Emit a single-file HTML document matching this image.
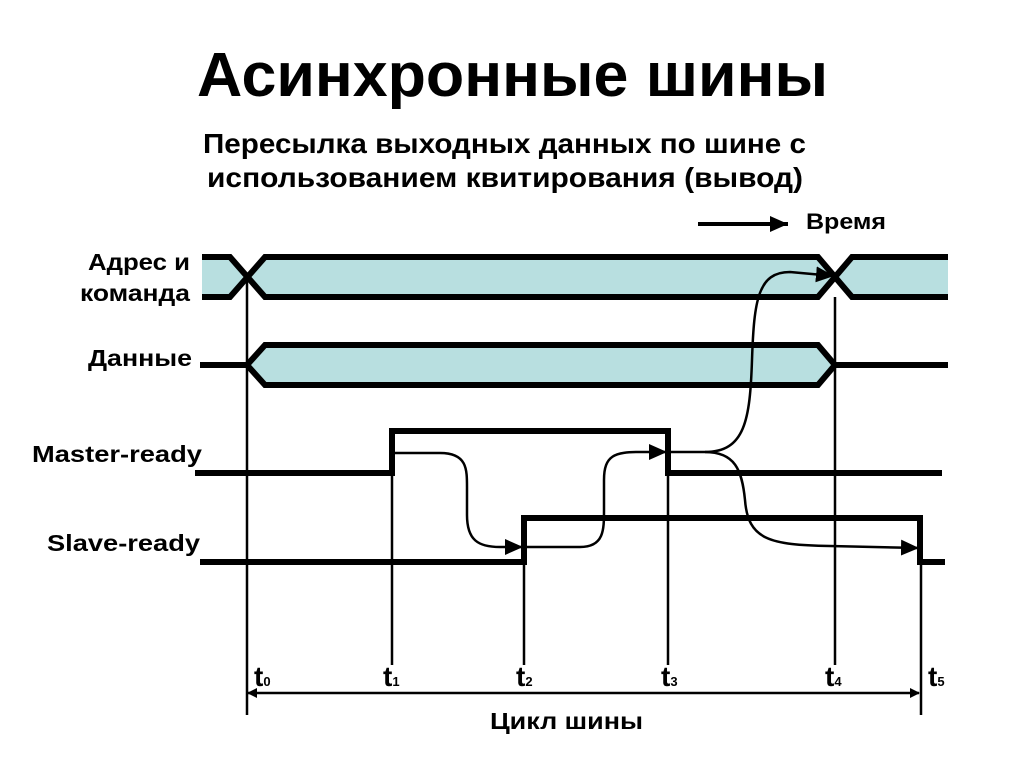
<!DOCTYPE html>
<html><head><meta charset="utf-8"><style>
body{margin:0;background:#fff;}
svg{display:block;}
text{font-family:"Liberation Sans","DejaVu Sans",sans-serif;font-weight:bold;fill:#000;}
</style></head><body>
<svg width="1024" height="768" viewBox="0 0 1024 768" xmlns="http://www.w3.org/2000/svg">
<defs>
<marker id="ah" markerWidth="10" markerHeight="10" refX="9" refY="5" orient="auto-start-reverse" markerUnits="userSpaceOnUse">
<path d="M0,0 L10,5 L0,10 Z" fill="#000"/></marker>
<marker id="ah2" markerWidth="20" markerHeight="16" refX="18" refY="8" orient="auto" markerUnits="userSpaceOnUse">
<path d="M0,0 L18,8 L0,16 Z" fill="#000"/></marker>
</defs>
<text x="197" y="96" font-size="62" textLength="631" lengthAdjust="spacingAndGlyphs">Асинхронные шины</text>
<text x="203" y="153" font-size="28" textLength="603" lengthAdjust="spacingAndGlyphs">Пересылка выходных данных по шине с</text>
<text x="207" y="187" font-size="28" textLength="596" lengthAdjust="spacingAndGlyphs">использованием квитирования (вывод)</text>
<line x1="698" y1="224" x2="788" y2="224" stroke="#000" stroke-width="4" marker-end="url(#ah2)"/>
<text x="806" y="229" font-size="22" textLength="80" lengthAdjust="spacingAndGlyphs">Время</text>

<text x="88" y="270" font-size="23" textLength="102" lengthAdjust="spacingAndGlyphs">Адрес и</text>
<text x="80" y="301" font-size="23" textLength="110" lengthAdjust="spacingAndGlyphs">команда</text>
<text x="88" y="366" font-size="23" textLength="104" lengthAdjust="spacingAndGlyphs">Данные</text>
<text x="32" y="462" font-size="23" textLength="170" lengthAdjust="spacingAndGlyphs">Master-ready</text>
<text x="47" y="551" font-size="23" textLength="153" lengthAdjust="spacingAndGlyphs">Slave-ready</text>

<polygon points="202,257 230,257 247,277 230,297 202,297" fill="#b8dfe0"/>
<polygon points="247,277 265,257 818,257 835,277 818,297 265,297" fill="#b8dfe0"/>
<polygon points="835,277 852,257 948,257 948,297 852,297" fill="#b8dfe0"/>
<g fill="none" stroke="#000" stroke-width="6" stroke-linejoin="miter">
<polyline points="202,257 230,257 265,297 818,297 852,257 948,257"/>
<polyline points="202,297 230,297 265,257 818,257 852,297 948,297"/>
</g>
<polygon points="247,365 265,345 818,345 835,365 818,385 265,385" fill="#b8dfe0" stroke="#000" stroke-width="6"/>
<line x1="200" y1="365" x2="247" y2="365" stroke="#000" stroke-width="6"/>
<line x1="835" y1="365" x2="948" y2="365" stroke="#000" stroke-width="6"/>
<polyline points="195,473 392,473 392,431 668,431 668,473 942,473" fill="none" stroke="#000" stroke-width="6"/>
<polyline points="200,562 524,562 524,518 920,518 920,562 945,562" fill="none" stroke="#000" stroke-width="6"/>
<g stroke="#000" stroke-width="2.5">
<line x1="247" y1="277" x2="247" y2="715"/>
<line x1="392" y1="473" x2="392" y2="665"/>
<line x1="524" y1="562" x2="524" y2="665"/>
<line x1="668" y1="473" x2="668" y2="665"/>
<line x1="835" y1="297" x2="835" y2="665"/>
<line x1="921" y1="562" x2="921" y2="715"/>
</g>
<g fill="none" stroke="#000" stroke-width="2.5">
<path d="M394,453 L440,453 C468,453 467,470 467,490 L467,515 C467,540 478,547 500,547 L523,547" marker-end="url(#ah2)"/>
<path d="M526,547 L580,547 C604,547 604,530 604,510 L604,480 C604,455 615,452 640,452 L667,452" marker-end="url(#ah2)"/>
<path d="M670,452 L705,452 C745,452 750,420 752,360 C754,300 758,272 790,272 L834,276" marker-end="url(#ah2)"/>
<path d="M705,452 C735,452 742,470 745,500 C748,540 770,545 830,546 L919,548" marker-end="url(#ah2)"/>
<line x1="248" y1="693" x2="919" y2="693" marker-end="url(#ah)" marker-start="url(#ah)"/>
</g>
<g font-size="28">
<text x="254" y="686">t<tspan font-size="13">0</tspan></text>
<text x="383" y="686">t<tspan font-size="13">1</tspan></text>
<text x="516" y="686">t<tspan font-size="13">2</tspan></text>
<text x="661" y="686">t<tspan font-size="13">3</tspan></text>
<text x="825" y="686">t<tspan font-size="13">4</tspan></text>
<text x="928" y="686">t<tspan font-size="13">5</tspan></text>
</g>
<text x="490" y="729" font-size="23" textLength="153" lengthAdjust="spacingAndGlyphs">Цикл шины</text>
</svg>
</body></html>
